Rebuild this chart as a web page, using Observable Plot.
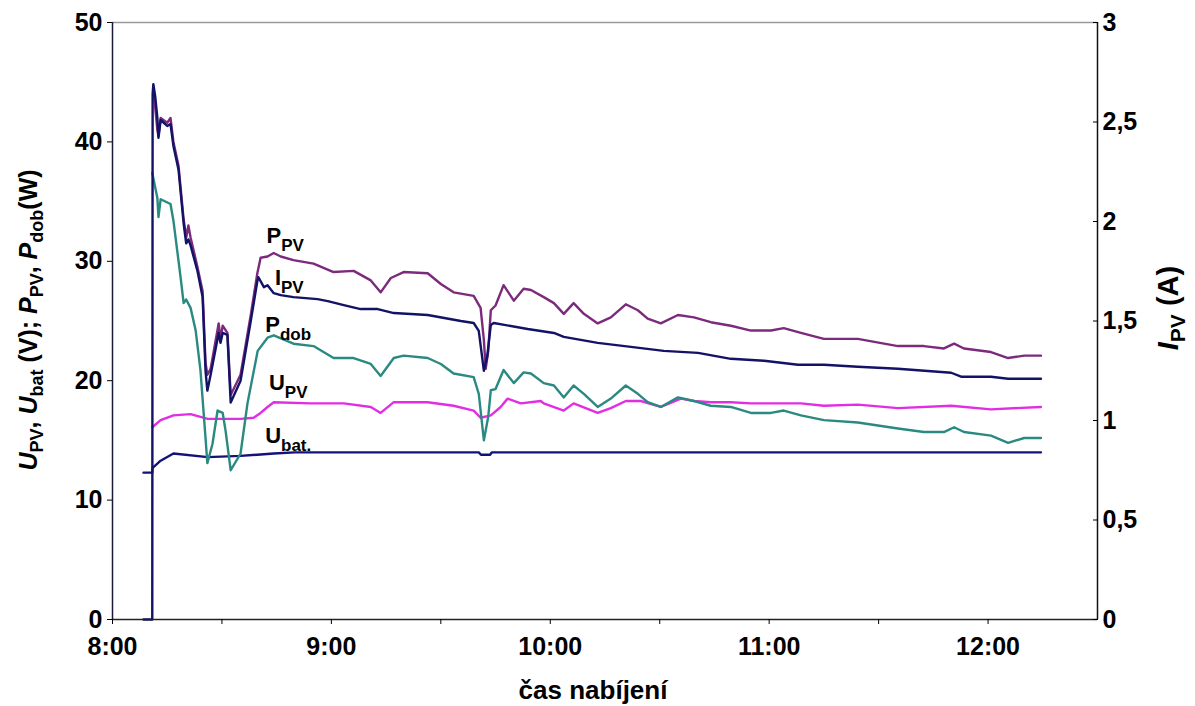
<!DOCTYPE html>
<html><head><meta charset="utf-8">
<script src="https://cdn.jsdelivr.net/npm/d3@7"></script>
<script src="https://cdn.jsdelivr.net/npm/@observablehq/plot@0.6"></script>
<style>body{margin:0;background:#fff} svg{display:block}</style>
</head><body><div id="chart"></div>
<script>
// time in minutes after 8:00
const tIPV = [8.5,10.9,11.0,11.2,11.7,12.3,12.6,13.2,15.0,15.9,16.7,18.1,19.5,20.2,20.8,21.4,23.3,24.7,25.5,26.0,26.9,29.1,29.6,30.2,31.5,32.4,35.1,37.9,39.7,40.0,41.5,42.5,44.2,46.1,49.6,56.2,59.0,63.4,68.0,72.7,77.1,86.4,95.5,99.0,100.4,101.8,102.7,103.7,104.5,113.8,117.4,121.0,123.7,133.0,142.1,151.1,160.5,169.5,178.6,187.9,195.0,204.3,215.3,229.9,232.6,240.8,245.5,254.5];
const IPV = [0,0,2.64,2.69,2.63,2.52,2.42,2.51,2.48,2.49,2.38,2.26,1.99,1.89,1.91,1.88,1.75,1.62,1.25,1.15,1.23,1.44,1.39,1.44,1.43,1.09,1.20,1.50,1.70,1.72,1.67,1.68,1.64,1.63,1.62,1.61,1.60,1.58,1.56,1.56,1.54,1.53,1.50,1.49,1.45,1.25,1.32,1.48,1.49,1.46,1.45,1.44,1.42,1.39,1.37,1.35,1.34,1.31,1.30,1.28,1.28,1.27,1.26,1.24,1.22,1.22,1.21,1.21];

const tPPV = [11.2,12.3,12.6,13.2,15.0,15.9,16.7,18.1,19.5,20.2,20.8,21.4,23.3,24.7,25.5,26.0,26.9,29.1,29.6,30.2,31.5,32.4,35.1,37.9,39.7,40.6,42.5,44.2,46.1,49.6,55.1,60.6,66.1,70.8,73.5,76.3,79.8,86.4,90.0,93.5,99.0,100.9,101.8,102.3,103.0,103.7,105.0,107.2,110.0,112.7,114.7,118.2,121.0,123.7,126.4,129.2,133.0,136.6,140.7,144.0,146.7,150.3,155.0,159.4,164.0,169.5,175.0,180.5,184.0,188.7,195.0,204.3,215.3,222.4,227.9,230.7,233.4,240.8,245.5,249.9,254.5];
const PPV = [44.5,41.0,40.5,42.0,41.6,42.0,40.0,38.0,33.5,32.0,33.0,32.0,29.5,27.5,21.5,20.5,21.0,24.8,23.5,24.6,24.0,18.8,20.5,25.5,29.0,30.3,30.4,30.7,30.4,30.1,29.8,29.1,29.2,28.4,27.4,28.6,29.1,29.0,28.1,27.4,27.1,26.1,23.4,21.0,22.5,25.9,26.3,28.0,26.7,27.7,27.6,27.0,26.5,25.6,26.5,25.6,24.8,25.3,26.4,25.9,25.2,24.8,25.5,25.3,24.9,24.6,24.2,24.2,24.4,24.0,23.5,23.5,22.9,22.9,22.7,23.1,22.7,22.4,21.9,22.1,22.1];

const tPdob = [10.9,12.3,12.6,13.2,15.9,16.7,18.65,19.5,20.2,21.4,22.8,24.1,25.5,26.0,27.4,28.8,30.2,31.0,32.4,35.1,37.0,39.8,42.5,44.2,49.6,55.1,60.6,66.1,70.8,73.5,77.1,79.8,86.4,90.0,93.5,99.0,100.4,101.8,103.0,103.7,105.0,107.2,110.0,112.7,114.7,118.2,121.0,123.7,126.4,129.2,133.0,136.6,140.7,144.0,146.7,150.3,155.0,159.4,164.0,169.5,175.0,180.5,184.0,188.7,195.0,204.3,215.3,222.4,227.9,230.7,233.4,240.8,245.5,249.9,254.5];
const Pdob = [37.4,35.3,33.7,35.2,34.8,33.4,28.7,26.5,26.8,26.1,24.2,20.9,15.2,13.1,14.7,17.5,17.3,15.8,12.5,13.9,18.1,22.5,23.6,23.8,23.1,22.9,21.9,21.9,21.4,20.4,21.9,22.1,21.9,21.4,20.6,20.3,18.9,15.0,17.0,19.2,19.3,20.9,19.8,20.7,20.6,19.8,19.6,18.6,19.6,18.9,17.8,18.5,19.6,18.9,18.2,17.8,18.6,18.3,17.9,17.8,17.3,17.3,17.5,17.1,16.7,16.5,16.0,15.7,15.7,16.1,15.7,15.4,14.8,15.2,15.2];

const tUPV = [10.9,13.2,16.7,21.4,26.1,35.1,38.7,40.6,42.5,44.2,54.3,63.4,70.8,73.5,77.1,86.4,93.5,99.0,100.9,103.7,106.4,108.3,111.9,117.4,118.2,123.7,126.4,133.0,136.6,140.7,144.8,150.3,155.8,159.4,164.0,169.5,175.0,183.2,188.7,195.0,204.3,215.3,229.9,240.8,254.5];
const UPV = [16.1,16.7,17.1,17.2,16.8,16.8,16.9,17.3,17.8,18.2,18.1,18.1,17.8,17.3,18.2,18.2,17.9,17.5,16.9,17.1,17.8,18.5,18.1,18.3,18.1,17.5,18.1,17.3,17.7,18.3,18.3,17.8,18.5,18.3,18.2,18.2,18.1,18.1,18.1,17.9,18.0,17.7,17.9,17.6,17.8];

const tUbat = [8.5,10.9,11.0,13.2,16.7,26.1,35.1,44.2,50.0,100.4,101.0,103.5,104.0,254.5];
const Ubat = [12.3,12.3,12.7,13.3,13.9,13.6,13.7,13.9,14.0,14.0,13.8,13.8,14.0,14.0];

const leftTicks = [0,10,20,30,40,50];
const rightTicks = [0,0.5,1,1.5,2,2.5,3];
const xTicks = [0,30,60,90,120,150,180,210,240];

const labelMain = ["P","I","P","U","U"];
const labelSub = ["PV","PV","dob","PV","bat."];
const labelT = [47.5,48.6,48.3,48.3,48.3];
const labelV = [31.5,28.0,24.0,19.2,14.7];

const k = 50 / 3; // right axis (A) -> left axis units
const font = "'Liberation Sans', Arial, sans-serif";
const toRows = (t, v, f = 1) => t.map((x, i) => ({t: x, v: v[i] * f}));

const plot = Plot.plot({
  width: 1195, height: 706,
  marginLeft: 112, marginRight: 98, marginTop: 22, marginBottom: 87,
  style: {fontFamily: font, fontSize: "25px", fontWeight: "bold", background: "#fff", color: "#000", overflow: "visible"},
  x: {domain: [0, 270]},
  y: {domain: [0, 50]},
  marks: [
    Plot.ruleY([50], {stroke: "#9a9a9a", strokeWidth: 1.5}),
    Plot.line(toRows(tUbat, Ubat), {x: "t", y: "v", stroke: "#12127a", strokeWidth: 2.4}),
    Plot.line(toRows(tUPV, UPV), {x: "t", y: "v", stroke: "#e22ee2", strokeWidth: 2.4}),
    Plot.line(toRows(tPdob, Pdob), {x: "t", y: "v", stroke: "#2a8a82", strokeWidth: 2.4}),
    Plot.line(toRows(tPPV, PPV), {x: "t", y: "v", stroke: "#7c2a7c", strokeWidth: 2.4}),
    Plot.line(toRows(tIPV, IPV, k), {x: "t", y: "v", stroke: "#121266", strokeWidth: 2.4}),
    Plot.ruleX([0], {stroke: "#1a1a3a", strokeWidth: 1.5}),
    Plot.ruleX([270], {stroke: "#111", strokeWidth: 1.5}),
    Plot.ruleY([0], {stroke: "#222", strokeWidth: 1.5}),
    Plot.axisY({anchor: "left", ticks: leftTicks, tickSize: 5, tickPadding: 5, label: null}),
    Plot.axisY({anchor: "right", ticks: rightTicks.map(d => d * k), tickSize: 5, dx: -5, tickFormat: () => "", label: null}),
    Plot.axisY({anchor: "right", ticks: rightTicks.map(d => d * k), tickSize: 0, tickPadding: 5, label: null,
      tickFormat: d => d3.format(".1~f")(d / k).replace(".", ",")}),
    Plot.axisX({ticks: xTicks, tickSize: 5, tickPadding: 13, label: null,
      tickFormat: m => m % 60 === 0 ? `${8 + m / 60}:00` : ""})
  ]
});

const svg = d3.select(plot);
const sx = plot.scale("x"), sy = plot.scale("y");

// series labels
labelMain.forEach((m, i) => {
  const tx = svg.append("text")
    .attr("x", sx.apply(labelT[i])).attr("y", sy.apply(labelV[i]))
    .attr("font-family", font).attr("font-size", 22).attr("font-weight", "bold").attr("fill", "#000");
  tx.append("tspan").text(m);
  tx.append("tspan").attr("dy", 8).attr("font-size", 17).text(labelSub[i]);
});

// rotated axis titles with italic letters and subscripts
function richTitle(parent, parts, x, y, size, subSize, subShift) {
  const t = parent.append("text")
    .attr("transform", `translate(${x},${y}) rotate(-90)`)
    .attr("text-anchor", "middle")
    .attr("font-family", font).attr("font-size", size).attr("font-weight", "bold").attr("fill", "#000");
  let shift = 0;
  for (const [txt, kind] of parts) {
    const s = t.append("tspan").text(txt);
    if (kind === "i") s.attr("font-style", "italic");
    const target = kind === "s" ? subShift : 0;
    if (target !== shift) { s.attr("dy", target - shift); shift = target; }
    if (kind === "s") s.attr("font-size", subSize);
  }
  return t;
}
richTitle(svg, [["U","i"],["PV","s"],[", ","n"],["U","i"],["bat","s"],[" (V); ","n"],["P","i"],["PV","s"],[", ","n"],["P","i"],["dob","s"],["(W)","n"]], 37, 320, 25, 18, 6);
richTitle(svg, [["I","i"],["PV","s"],[" (A)","n"]], 1178, 308, 29, 21, 7);

// x title
svg.append("text").attr("x", 593).attr("y", 699).attr("text-anchor", "middle")
  .attr("font-family", font).attr("font-size", 26).attr("font-weight", "bold").attr("fill", "#000")
  .text("čas nabíjení");

document.getElementById("chart").append(plot);
</script>
</body></html>
